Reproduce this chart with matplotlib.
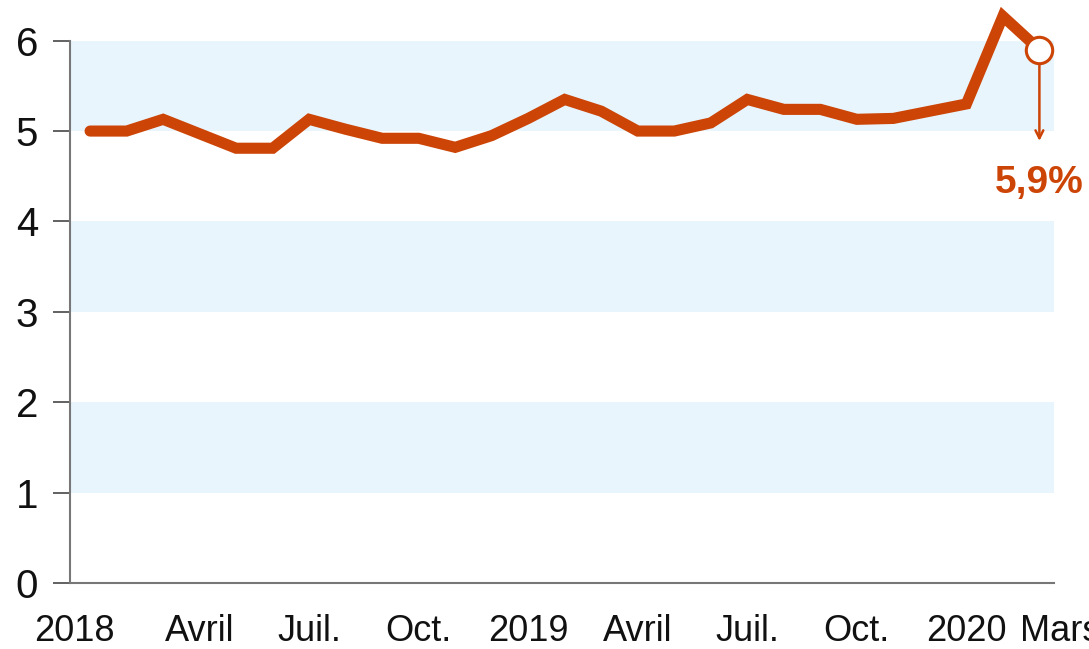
import numpy as np
import matplotlib
matplotlib.use('Agg')
import matplotlib.pyplot as plt
from matplotlib.transforms import ScaledTranslation

# monthly values, Jan 2018 -> Mar 2020
values = [5.0, 5.0, 5.13, 4.97, 4.81, 4.81, 5.13, 5.02, 4.92, 4.92, 4.82, 4.95,
          5.14, 5.35, 5.22, 5.0, 5.0, 5.09, 5.35, 5.24, 5.24, 5.13, 5.14, 5.22,
          5.3, 6.27, 5.9]
tick_pos = [0, 3, 6, 9, 12, 15, 18, 21, 24, 26]
tick_labels = ['2018', 'Avril', 'Juil.', 'Oct.', '2019', 'Avril', 'Juil.', 'Oct.', '2020', 'Mars']
y_ticks = [0, 1, 2, 3, 4, 5, 6]
bands = [(1, 2), (3, 4), (5, 6)]
last_label = '5,9%'

plt.rcParams['font.family'] = ['Liberation Sans', 'DejaVu Sans']

orange = '#cc4406'
x = np.arange(len(values))

fig = plt.figure(figsize=(10.89, 6.49), dpi=100)
ax = fig.add_axes([70 / 1089, 66 / 649, (1054 - 70) / 1089, 583 / 649])

for lo, hi in bands:
    ax.axhspan(lo, hi, color='#e8f5fc', lw=0, zorder=0)

ax.plot(x, values, color=orange, lw=8, solid_capstyle='round',
        solid_joinstyle='miter', zorder=3)
ax.plot(x[-1], values[-1], 'o', ms=19, mfc='white', mec=orange, mew=2.2, zorder=4)
ax.annotate('', xy=(x[-1], 4.86), xytext=(x[-1], values[-1] - 0.13),
            arrowprops=dict(arrowstyle='->', color=orange, lw=1.8,
                            mutation_scale=14), zorder=4)
ax.text(x[-1], 4.63, last_label, color=orange, fontsize=28, fontweight='bold',
        ha='center', va='top')

ax.set_xlim(-0.55, 26.4)
ax.set_ylim(0, 6.45)

ax.set_yticks(y_ticks)
ax.set_yticklabels([str(t) for t in y_ticks])
ax.set_xticks(tick_pos)
ax.set_xticklabels(tick_labels)

for s in ['top', 'right']:
    ax.spines[s].set_visible(False)
for s in ['left', 'bottom']:
    ax.spines[s].set_color('#777777')
    ax.spines[s].set_linewidth(1.5)
ax.spines['left'].set_bounds(0, 6)

ax.tick_params(axis='y', length=12, width=1.3, color='#555555', labelsize=29,
               pad=11, labelcolor='#111111')
ax.tick_params(axis='x', length=0, labelsize=26, pad=22, labelcolor='#111111')

# first and last month labels sit a bit off their tick in the original
xl = ax.get_xticklabels()
xl[0].set_transform(xl[0].get_transform() + ScaledTranslation(-16 / 100, 0, fig.dpi_scale_trans))
xl[-1].set_horizontalalignment('left')
xl[-1].set_transform(xl[-1].get_transform() + ScaledTranslation(-19 / 100, 0, fig.dpi_scale_trans))

fig.savefig('out.png', dpi=100)
